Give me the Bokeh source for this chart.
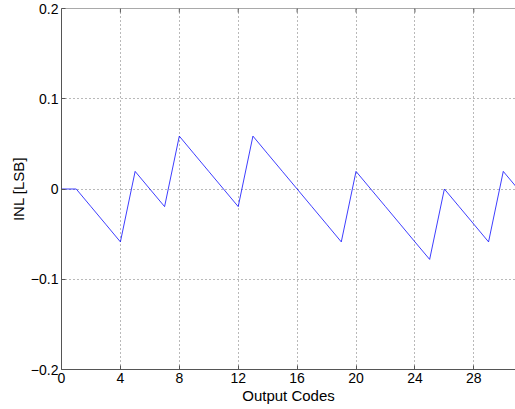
from bokeh.plotting import figure
from bokeh.models import Range1d, FixedTicker, Span
from bokeh.embed import file_html
from bokeh.resources import INLINE

codes = list(range(0, 32))
inl = [0.0, 0.0, -0.0195, -0.039, -0.0586, 0.0195, 0.0, -0.0195,
       0.0586, 0.039, 0.0195, 0.0, -0.0195, 0.0586, 0.039, 0.0195,
       0.0, -0.0195, -0.039, -0.0586, 0.0195, 0.0, -0.0195, -0.039,
       -0.0586, -0.078, 0.0, -0.0195, -0.039, -0.0586, 0.0195, 0.0]
x_ticks = [0, 4, 8, 12, 16, 20, 24, 28]
y_ticks = [-0.2, -0.1, 0, 0.1, 0.2]
y_tick_labels = {-0.2: "\u22120.2", -0.1: "\u22120.1", 0: "0", 0.1: "0.1", 0.2: "0.2"}

FONT = "Liberation Sans"
FRAME_H = 361
y_lo, y_hi = y_ticks[0], y_ticks[-1]

p = figure(width=515, height=409, frame_width=454, frame_height=FRAME_H,
           output_backend="svg", toolbar_location=None,
           x_range=Range1d(0, 30.83), y_range=Range1d(y_lo, y_hi),
           min_border_left=61, min_border_right=0, min_border_top=8, min_border_bottom=40,
           background_fill_color="white", border_fill_color="white")
p.outline_line_color = None

p.xgrid.ticker = FixedTicker(ticks=x_ticks)
p.ygrid.ticker = FixedTicker(ticks=y_ticks)
for g in (p.xgrid, p.ygrid):
    g.grid_line_color = "#000000"
    g.grid_line_alpha = 0.55
    g.grid_line_dash = "1 3"
    g.grid_line_width = 1

p.line(codes, inl, line_color="#0000ff", line_width=0.9, line_alpha=0.85)

for ax in p.xaxis:
    ax.ticker = FixedTicker(ticks=x_ticks)
    ax.axis_label = "Output Codes"
for ax in p.yaxis:
    ax.ticker = FixedTicker(ticks=y_ticks)
    ax.major_label_overrides = y_tick_labels
    ax.axis_label = "INL [LSB]"

for ax in list(p.xaxis) + list(p.yaxis):
    ax.axis_line_color = "#555555"
    ax.axis_line_width = 1
    ax.major_tick_in = 4
    ax.major_tick_out = 0
    ax.major_tick_line_color = "#555555"
    ax.minor_tick_line_color = None
    ax.major_label_text_font = FONT
    ax.major_label_text_font_size = "14px"
    ax.major_label_text_color = "black"
    ax.axis_label_text_font = FONT
    ax.axis_label_text_font_size = "15px"
    ax.axis_label_text_font_style = "normal"
    ax.axis_label_text_color = "black"
    ax.major_label_standoff = 3
    ax.axis_label_standoff = 1

# top border of the box with inward ticks (MATLAB "box on")
p.add_layout(Span(location=y_hi, dimension="width", line_color="#555555", line_width=1))
tick_len = 4 * (y_hi - y_lo) / FRAME_H
p.segment(x0=x_ticks, y0=[y_hi] * len(x_ticks), x1=x_ticks,
          y1=[y_hi - tick_len] * len(x_ticks), line_color="#555555", line_width=1)

open("out.html", "w").write(file_html(p, INLINE))
